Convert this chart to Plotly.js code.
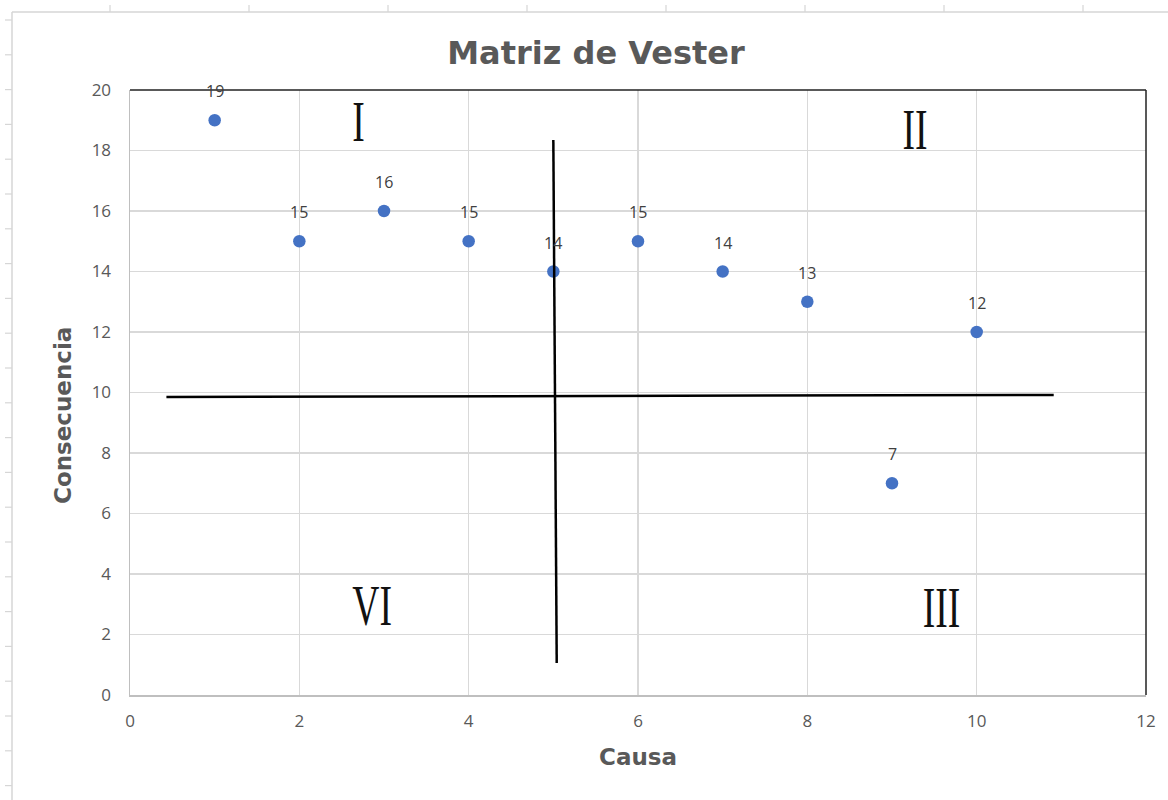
<!DOCTYPE html>
<html>
<head>
<meta charset="utf-8">
<script src="https://cdn.plot.ly/plotly-3.0.1.min.js"></script>
<style>html,body{margin:0;padding:0;background:#fff;}#chart{width:1168px;height:800px;}</style>
</head>
<body>
<div id="chart"></div>
<script>
// Data
const causa = [1, 2, 3, 4, 5, 6, 7, 8, 9, 10];
const consecuencia = [19, 15, 16, 15, 14, 15, 14, 13, 7, 12];
const xTicks = [0, 2, 4, 6, 8, 10, 12];
const yTicks = [0, 2, 4, 6, 8, 10, 12, 14, 16, 18, 20];
// Quadrant labels
const quadLabels = ['I', 'II', 'VI', 'III'];
const quadX = [2.7, 9.27, 2.86, 9.58];
const quadY = [18.95, 18.7, 2.95, 2.9];
// Hand-drawn divider lines (data coords)
const vLineX = [5.0, 5.04];
const vLineY = [18.35, 1.06];
const hLineX = [0.43, 10.91];
const hLineY = [9.85, 9.92];

const L = 130, R = 1146, T = 90, B = 695;
const px2x = p => (p - L) / (R - L);
const px2y = p => (B - p) / (B - T);

const shapes = [];
// Spreadsheet background lines
const sheetCol = '#d6d6d6';
shapes.push({type:'line', xref:'paper', yref:'paper', x0:px2x(12), x1:px2x(1168), y0:px2y(12), y1:px2y(12), line:{color:sheetCol, width:1.5}});
shapes.push({type:'line', xref:'paper', yref:'paper', x0:px2x(12), x1:px2x(12), y0:px2y(12), y1:px2y(800), line:{color:sheetCol, width:1.5}});
const topTicks = [110, 249, 388, 527, 666, 805, 944, 1083];
topTicks.forEach(p => shapes.push({type:'line', xref:'paper', yref:'paper', x0:px2x(p), x1:px2x(p), y0:px2y(5), y1:px2y(12), line:{color:sheetCol, width:1.2}}));
for (let p = 20; p < 800; p += 34.8) {
  shapes.push({type:'line', xref:'paper', yref:'paper', x0:px2x(5), x1:px2x(12), y0:px2y(p), y1:px2y(p), line:{color:sheetCol, width:1.2}});
}
// Top and right plot borders
shapes.push({type:'line', xref:'paper', yref:'paper', x0:0, x1:1, y0:1, y1:1, line:{color:'#222', width:1.5}});
shapes.push({type:'line', xref:'paper', yref:'paper', x0:1, x1:1, y0:0, y1:1, line:{color:'#222', width:1.5}});
// Divider lines
shapes.push({type:'line', xref:'x', yref:'y', x0:vLineX[0], x1:vLineX[1], y0:vLineY[0], y1:vLineY[1], line:{color:'#000', width:2.5}});
shapes.push({type:'line', xref:'x', yref:'y', x0:hLineX[0], x1:hLineX[1], y0:hLineY[0], y1:hLineY[1], line:{color:'#000', width:2.5}});

const titleFont = 'DejaVu Sans, Liberation Sans, Arial, sans-serif';
const annotations = [];
causa.forEach((x, i) => annotations.push({
  x: x, y: consecuencia[i], xref:'x', yref:'y', text: String(consecuencia[i]),
  showarrow:false, yshift: 29, font:{family:'Open Sans, Liberation Sans, sans-serif', size:16, color:'#404040'}
}));
const nDataLabels = annotations.length;
quadLabels.forEach((t, i) => annotations.push({
  x: quadX[i], y: quadY[i], xref:'x', yref:'y', text: t, showarrow:false,
  font:{family:'Liberation Serif, serif', size:57, color:'#111'}
}));
const nQuadEnd = annotations.length;
// Y axis title (placed as in the reference, slightly below the plot centre)
annotations.push({
  x: px2x(63), y: px2y(416), xref:'paper', yref:'paper', text:'<b>Consecuencia</b>', textangle:-90,
  showarrow:false, xanchor:'center', yanchor:'middle', font:{family:titleFont, size:23, color:'#595959'}
});

const trace = {
  x: causa, y: consecuencia, type:'scatter', mode:'markers',
  marker:{color:'#4472C4', size:12.5}, cliponaxis:false, hoverinfo:'x+y'
};

const layout = {
  width:1168, height:800,
  margin:{l:L, r:1168-R, t:T, b:800-B},
  paper_bgcolor:'#fff', plot_bgcolor:'#fff',
  showlegend:false,
  title:{text:'<b>Matriz de Vester</b>', x:596/1168, xanchor:'center', y:1-53/800, yanchor:'middle', yref:'container',
         font:{family:titleFont, size:32, color:'#595959'}},
  xaxis:{range:[0,12], tickvals:xTicks, ticktext:xTicks.map(String), showgrid:true, gridcolor:'#d9d9d9', gridwidth:1.3,
         zeroline:false, showline:true, linecolor:'#bfbfbf', linewidth:1.5, ticks:'', ticklabelstandoff:10,
         tickfont:{family:'Open Sans, Liberation Sans, sans-serif', size:17, color:'#595959'},
         title:{text:'<b>Causa</b>', standoff:18, font:{family:titleFont, size:23, color:'#595959'}}},
  yaxis:{range:[0,20], tickvals:yTicks, ticktext:yTicks.map(String), showgrid:true, gridcolor:'#d9d9d9', gridwidth:1.3,
         zeroline:false, showline:true, linecolor:'#bfbfbf', linewidth:1.5, ticks:'', ticklabelstandoff:14,
         tickfont:{family:'Open Sans, Liberation Sans, sans-serif', size:17, color:'#595959'}},
  shapes: shapes,
  annotations: annotations
};

Plotly.newPlot('chart', [trace], layout, {displayModeBar:false, staticPlot:true}).then(gd => {
  // Condense the roman numerals horizontally (narrow serif look)
  gd.querySelectorAll('g.annotation').forEach(g => {
    const idx = +g.getAttribute('data-index');
    if (idx >= nDataLabels && idx < nQuadEnd) {
      const t = g.querySelector('text');
      if (!t) return;
      const bb = t.getBBox();
      const cx = bb.x + bb.width / 2;
      const prev = t.getAttribute('transform') || '';
      t.setAttribute('transform', prev + ` translate(${cx},0) scale(0.66,1) translate(${-cx},0)`);
    }
  });
});
</script>
</body>
</html>
